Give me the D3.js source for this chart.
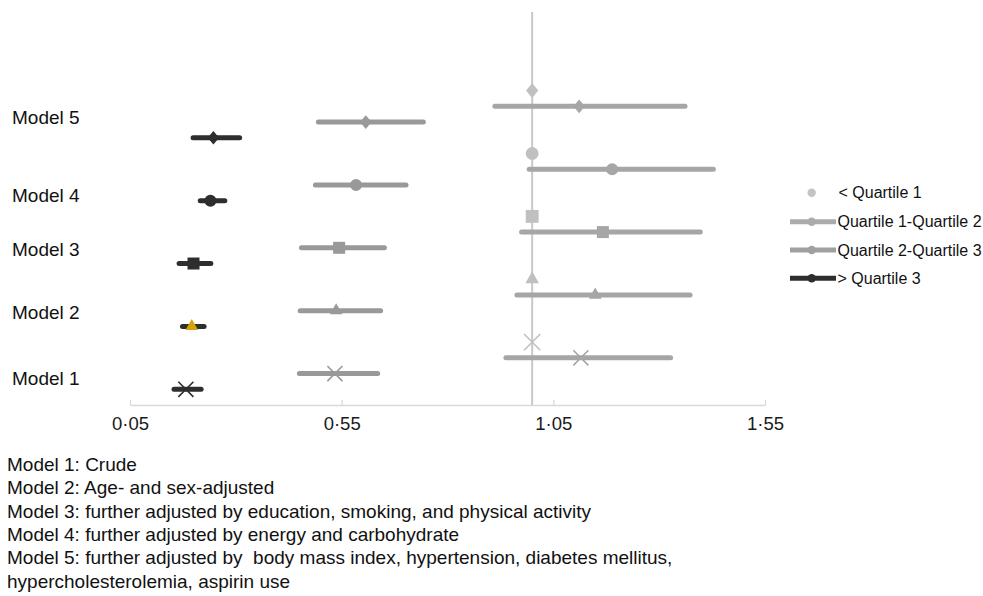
<!DOCTYPE html>
<html>
<head>
<meta charset="utf-8">
<script src="https://cdn.jsdelivr.net/npm/d3@7/dist/d3.min.js"></script>
<style>
  body { margin: 0; background: #fff; }
  svg { display: block; font-family: "Liberation Sans", Arial, sans-serif; }
</style>
</head>
<body>
<div id="chart"></div>
<script>
// models, bottom to top
const models = ["Model 1", "Model 2", "Model 3", "Model 4", "Model 5"];
const modelLabelY = [1.7, 5.9, 9.9, 13.35, 18.3];
const shapes = ["times", "triangle", "square", "circle", "diamond"];

// < Quartile 1 (reference)
const q1Est = [1, 1, 1, 1, 1];
// Quartile 1-Quartile 2
const q12Est = [1.115, 1.149, 1.167, 1.189, 1.111];
const q12Lo = [0.938, 0.964, 0.975, 0.993, 0.912];
const q12Hi = [1.327, 1.373, 1.397, 1.428, 1.361];
// Quartile 2-Quartile 3
const q23Est = [0.534, 0.537, 0.544, 0.584, 0.607];
const q23Lo = [0.450, 0.452, 0.455, 0.488, 0.495];
const q23Hi = [0.635, 0.642, 0.651, 0.702, 0.743];
// > Quartile 3
const q3Est = [0.182, 0.196, 0.200, 0.240, 0.247];
const q3Lo = [0.154, 0.174, 0.166, 0.216, 0.199];
const q3Hi = [0.218, 0.225, 0.241, 0.274, 0.309];

const xTicks = [0.05, 0.55, 1.05, 1.55];
const refX = 1.0;
const legendLabels = ["< Quartile 1", "Quartile 1-Quartile 2", "Quartile 2-Quartile 3", "> Quartile 3"];
const notes = [
  "Model 1: Crude",
  "Model 2: Age- and sex-adjusted",
  "Model 3: further adjusted by education, smoking, and physical activity",
  "Model 4: further adjusted by energy and carbohydrate",
  "Model 5: further adjusted by  body mass index, hypertension, diabetes mellitus,",
  "hypercholesterolemia, aspirin use"
];

const width = 983, height = 596;
const svg = d3.select("#chart").append("svg")
  .attr("width", width)
  .attr("height", height);

const x = d3.scaleLinear().domain([0.05, 1.55]).range([130, 765]);
const y = d3.scaleLinear().domain([0, 25]).range([405, 12]);

// diamond drawn as a slightly tall rhombus
const diamond = {
  draw(ctx, size) {
    const w = Math.sqrt(size) * 0.5, h = w * 1.2;
    ctx.moveTo(0, -h); ctx.lineTo(w, 0); ctx.lineTo(0, h); ctx.lineTo(-w, 0); ctx.closePath();
  }
};
const symbolTypes = {
  times: d3.symbolTimes,
  triangle: d3.symbolTriangle,
  square: d3.symbolSquare,
  circle: d3.symbolCircle,
  diamond: diamond
};
const symbolSizes = { times: 150, triangle: 70, square: 144, circle: 113, diamond: 130 };

// series: offset inside each model group (row = 4*i + offset)
const series = [
  { est: q3Est, lo: q3Lo, hi: q3Hi, offset: 1, color: "#2e2e2e" },
  { est: q23Est, lo: q23Lo, hi: q23Hi, offset: 2, color: "#999999" },
  { est: q12Est, lo: q12Lo, hi: q12Hi, offset: 3, color: "#a6a6a6" },
  { est: q1Est, lo: null, hi: null, offset: 4, color: "#c0c0c0" }
];

// x axis
const xAxis = d3.axisBottom(x).tickValues(xTicks)
  .tickFormat(d => d3.format(".2f")(d).replace(".", "\u00b7"))
  .tickSizeInner(-5).tickSizeOuter(0);
const gx = svg.append("g")
  .attr("transform", "translate(0," + y(0) + ")")
  .call(xAxis);
gx.select(".domain").attr("stroke", "#d9d9d9").attr("stroke-width", 1.3);
gx.selectAll(".tick line").attr("stroke", "#d9d9d9").attr("stroke-width", 1.3);
gx.selectAll(".tick text")
  .attr("y", 25).attr("dy", null)
  .attr("fill", "#1a1a1a")
  .style("font-size", "18.5px")
  .style("font-family", "Liberation Sans, Arial, sans-serif");

// reference line at 1
svg.append("line")
  .attr("x1", x(refX)).attr("x2", x(refX))
  .attr("y1", y(0)).attr("y2", y(25))
  .attr("stroke", "#c8c8c8")
  .attr("stroke-width", 2);

// error lines
const lineLayer = svg.append("g");
series.forEach(s => {
  if (!s.lo) return;
  models.forEach((m, i) => {
    lineLayer.append("line")
      .attr("x1", x(s.lo[i])).attr("x2", x(s.hi[i]))
      .attr("y1", y(4 * i + s.offset)).attr("y2", y(4 * i + s.offset))
      .attr("stroke", s.color)
      .attr("stroke-width", 5)
      .attr("stroke-linecap", "round");
  });
});

// markers
const markLayer = svg.append("g");
series.forEach((s, si) => {
  models.forEach((m, i) => {
    const shape = shapes[i];
    let color = s.color;
    if (si === 0 && shape === "triangle") color = "#d4a20a";
    const sz = si === 3 ? symbolSizes[shape] * 1.15 : symbolSizes[shape];
    const p = markLayer.append("path")
      .attr("d", d3.symbol().type(symbolTypes[shape]).size(sz)())
      .attr("transform", "translate(" + x(s.est[i]) + "," + y(4 * i + s.offset) + ")");
    if (shape === "times") {
      p.attr("fill", "none").attr("stroke", color).attr("stroke-width", 1.6);
    } else {
      p.attr("fill", color);
    }
  });
});

// model labels
svg.append("g").selectAll("text")
  .data(models)
  .join("text")
  .attr("x", 12)
  .attr("y", (d, i) => y(modelLabelY[i]))
  .attr("dy", "0.35em")
  .style("font-size", "19px")
  .attr("fill", "#111")
  .text(d => d);

// legend
const legendY = [192.7, 221.7, 250, 278.3];
const legendColors = ["#c4c4c4", "#ababab", "#a0a0a0", "#2e2e2e"];
const legend = svg.append("g");
legendLabels.forEach((lab, i) => {
  if (i > 0) {
    legend.append("line")
      .attr("x1", 790).attr("x2", 836)
      .attr("y1", legendY[i]).attr("y2", legendY[i])
      .attr("stroke", legendColors[i]).attr("stroke-width", 5);
  }
  legend.append("circle")
    .attr("cx", 811.7).attr("cy", legendY[i])
    .attr("r", 4.2)
    .attr("fill", legendColors[i]);
  legend.append("text")
    .attr("x", i === 0 ? 838.5 : 837.5)
    .attr("y", legendY[i])
    .attr("dy", "0.35em")
    .style("font-size", "16px")
    .attr("fill", "#111")
    .text(lab);
});

// notes below the chart
svg.append("g").selectAll("text")
  .data(notes)
  .join("text")
  .attr("x", 7)
  .attr("y", (d, i) => 470.7 + i * 23.4)
  .style("font-size", "19px")
  .attr("fill", "#111")
  .attr("xml:space", "preserve")
  .style("white-space", "pre")
  .text(d => d);
</script>
</body>
</html>
